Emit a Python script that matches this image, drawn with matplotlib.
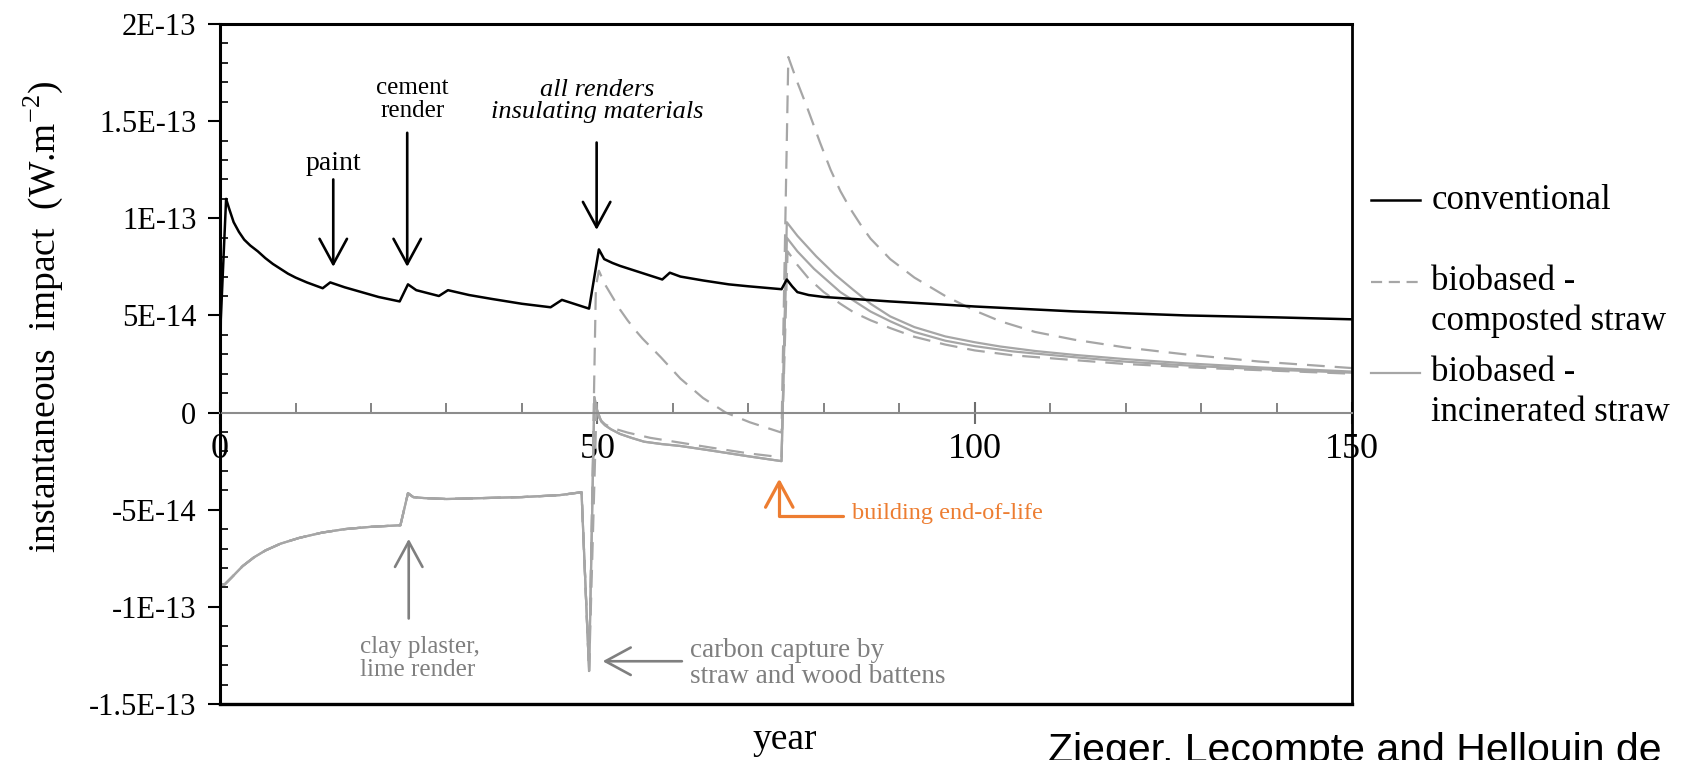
import matplotlib.pyplot as plt
from matplotlib.ticker import MultipleLocator

plt.rcParams['font.family'] = ['Liberation Serif', 'DejaVu Serif']
plt.rcParams['mathtext.fontset'] = 'custom'
plt.rcParams['mathtext.rm'] = 'Liberation Serif'

# values, in units of 1E-14 W.m-2

# conventional building
conv_years = [0, 0.1, 0.8, 1.2, 1.8, 2.5, 3.2, 4, 5, 6, 7, 8, 9, 10, 11.5, 13.6, 14.6, 16.5, 18.3,
              21, 23.8, 24.9, 26, 29, 30.2, 33, 36, 40, 43.8, 45.3, 48.9, 50.2, 50.9, 52, 53, 55, 57,
              58.6, 59.6, 61, 64, 67.4, 70, 74.4, 75.1, 75.8, 76.5, 78, 80, 85, 88.8, 95, 100, 113,
              128, 140, 150]
conv_vals = [0, 4.8, 11.0, 10.5, 9.8, 9.3, 8.9, 8.6, 8.3, 7.95, 7.65, 7.4, 7.15, 6.95, 6.7, 6.4, 6.7,
             6.45, 6.25, 5.95, 5.72, 6.6, 6.3, 6.0, 6.3, 6.05, 5.85, 5.6, 5.42, 5.8, 5.35, 8.4, 7.9,
             7.7, 7.55, 7.3, 7.05, 6.85, 7.2, 7.0, 6.8, 6.6, 6.5, 6.35, 6.85, 6.5, 6.2, 6.05, 5.95,
             5.82, 5.72, 5.58, 5.46, 5.21, 5.0, 4.9, 4.8]

# biobased, common part for both straw end-of-life options (years 0-49)
pre_years = [0, 0.6, 1.5, 3, 4.5, 6, 8, 10.5, 13.5, 16.5, 20, 23.9, 24.9, 25.6, 27, 30, 35, 40, 45,
             47.9, 48.9]
pre_vals = [-8.85, -8.85, -8.5, -7.9, -7.45, -7.1, -6.75, -6.45, -6.18, -6.0, -5.88, -5.8, -4.15, -4.35,
            -4.4, -4.45, -4.4, -4.35, -4.25, -4.1, -13.3]

# biobased - composted straw (two dashed curves)
comp_a_years = [49.8, 50.2, 51, 52, 53, 54, 55, 56, 58.4, 61, 64, 67, 70.2, 74.4, 75.3, 76.5, 77.8,
                79.5, 80.9, 82.2, 83.5, 85, 86.2, 88.8, 92, 96.1, 100, 103.4, 108, 113.2, 120, 127.8,
                137.6, 150]
comp_a_vals = [6.5, 7.3, 6.6, 5.95, 5.3, 4.75, 4.25, 3.8, 2.85, 1.75, 0.75, 0.0, -0.5, -1.03, 18.3,
               17.0, 15.7, 13.9, 12.5, 11.4, 10.5, 9.6, 8.95, 7.9, 6.95, 6.0, 5.25, 4.7, 4.15, 3.75,
               3.35, 3.0, 2.63, 2.29]
comp_b_years = [49.9, 50.2, 50.6, 51, 52, 54, 57, 61, 65, 70, 74.4, 75.2, 76.5, 78, 80, 82.2, 84,
                86.2, 88.8, 92, 96.1, 100, 105, 113.2, 120, 130, 140, 150]
comp_b_vals = [0.5, -0.25, -0.45, -0.6, -0.8, -1.03, -1.3, -1.55, -1.8, -2.1, -2.3, 8.3, 7.6, 6.9,
               6.2, 5.6, 5.15, 4.75, 4.35, 3.9, 3.5, 3.2, 2.95, 2.7, 2.5, 2.3, 2.15, 2.0]

# biobased - incinerated straw (two solid curves, same until year 74)
inc_mid_years = [49.6, 49.9, 50.5, 51, 51.8, 53, 54.5, 56.2, 58.5, 61, 65, 70, 74.4]
inc_mid_vals = [0.8, 0.2, -0.45, -0.65, -0.86, -1.1, -1.3, -1.5, -1.62, -1.72, -1.95, -2.25, -2.5]
inc_a_years = [75.1, 76.5, 79, 81.5, 83.9, 86.2, 88.8, 92, 96.1, 100, 103.4, 108, 113.2, 120, 127.8,
               138, 150]
inc_a_vals = [9.8, 9.1, 8.04, 7.1, 6.32, 5.6, 4.95, 4.4, 3.92, 3.62, 3.40, 3.17, 2.97, 2.75, 2.54,
              2.32, 2.11]
inc_b_years = [75.1, 76.5, 78.7, 82.2, 86.2, 88.8, 92, 96.1, 100, 105, 113.2, 120, 130, 140, 150]
inc_b_vals = [9.0, 8.3, 7.4, 6.2, 5.2, 4.7, 4.15, 3.7, 3.42, 3.15, 2.85, 2.62, 2.38, 2.2, 2.05]

yticks = [-15, -10, -5, 0, 5, 10, 15, 20]
ytick_labels = ['-1.5E-13', '-1E-13', '-5E-14', '0', '5E-14', '1E-13', '1.5E-13', '2E-13']
xticks = [0, 50, 100, 150]

gray = '#A6A6A6'
text_gray = '#7F7F7F'
orange = '#ED7D31'

fig = plt.figure(figsize=(16.85, 7.6), dpi=100)
ax = fig.add_axes([0.1306, 0.0737, 0.6718, 0.8947])

ax.plot(pre_years + comp_a_years, pre_vals + comp_a_vals, color=gray, lw=1.6, dashes=(8, 4.5))
ax.plot(pre_years + comp_b_years, pre_vals + comp_b_vals, color=gray, lw=1.6, dashes=(8, 4.5))
ax.plot(pre_years + inc_mid_years + inc_a_years, pre_vals + inc_mid_vals + inc_a_vals, color=gray, lw=1.6)
ax.plot(pre_years + inc_mid_years + inc_b_years, pre_vals + inc_mid_vals + inc_b_vals, color=gray, lw=1.6)
ax.plot(conv_years, conv_vals, color='black', lw=1.8, zorder=5)

ax.set_xlim(0, 150)
ax.set_ylim(-15, 20)

# x axis sits on the zero line, box closed with a black line at the bottom
ax.spines['bottom'].set_position(('data', 0))
ax.spines['bottom'].set_color('#8C8C8C')
ax.spines['bottom'].set_linewidth(1.5)
ax.plot([0, 1], [0, 0], transform=ax.transAxes, color='black', lw=2.4, clip_on=False, zorder=6)
for side in ['left', 'top']:
    ax.spines[side].set_linewidth(2.2)
ax.spines['right'].set_linewidth(2.0)

ax.set_xticks(xticks)
ax.xaxis.set_minor_locator(MultipleLocator(10))
ax.tick_params(axis='x', which='major', direction='inout', length=16, width=1.5, color='#6E6E6E',
               labelsize=26, pad=7)
ax.tick_params(axis='x', which='minor', direction='in', length=7, width=1.2, color='#6E6E6E')
ax.set_yticks(yticks, ytick_labels)
ax.yaxis.set_minor_locator(MultipleLocator(1))
ax.tick_params(axis='y', which='major', direction='out', length=9, width=1.5, labelsize=22, pad=8)
ax.tick_params(axis='y', which='minor', direction='in', length=6, width=1.2)

fig.text(0.0255, 0.583, 'instantaneous  impact  (W.m$^{-2}$)', rotation=90, ha='center', va='center',
         fontsize=27)
fig.text(0.466, 0.026, 'year', ha='center', va='center', fontsize=27)

# annotations
black_arrow = dict(arrowstyle='->,head_length=0.7,head_width=0.38', color='black', lw=1.9,
                   mutation_scale=26, shrinkA=0, shrinkB=0)
gray_arrow = dict(black_arrow, color=text_gray)

ax.text(15.0, 12.8, 'paint', ha='center', va='center', fontsize=20)
ax.annotate('', xy=(15.0, 7.5), xytext=(15.0, 12.0), arrowprops=black_arrow)
ax.text(25.5, 16.1, 'cement\nrender', ha='center', va='center', fontsize=18, linespacing=1.05)
ax.annotate('', xy=(24.8, 7.5), xytext=(24.8, 14.4), arrowprops=black_arrow)
ax.text(50.0, 16.05, 'all renders\ninsulating materials', ha='center', va='center', fontsize=19,
        style='italic', linespacing=1.0)
ax.annotate('', xy=(49.9, 9.4), xytext=(49.9, 13.9), arrowprops=black_arrow)

ax.text(18.5, -12.65, 'clay plaster,\nlime render', ha='left', va='center', fontsize=18,
        color=text_gray, linespacing=1.05)
ax.annotate('', xy=(25.0, -6.5), xytext=(25.0, -10.6), arrowprops=gray_arrow)
ax.text(62.3, -12.9, 'carbon capture by\nstraw and wood battens', ha='left', va='center', fontsize=19.5,
        color=text_gray, linespacing=1.05)
ax.annotate('', xy=(50.7, -12.8), xytext=(61.2, -12.8), arrowprops=gray_arrow)

ax.text(83.7, -5.2, 'building end-of-life', ha='left', va='center', fontsize=17.5, color=orange)
ax.annotate('', xy=(74.1, -3.4), xytext=(82.6, -5.3),
            arrowprops=dict(arrowstyle='->,head_length=0.7,head_width=0.38', color=orange, lw=2.3,
                            mutation_scale=26, shrinkA=0, shrinkB=0,
                            connectionstyle='angle,angleA=0,angleB=90,rad=0'))

# legend drawn to the right of the box
leg_x = [1.017, 1.060]
ax.plot(leg_x, [0.741, 0.741], transform=ax.transAxes, color='black', lw=1.8, clip_on=False)
ax.plot(leg_x, [0.621, 0.621], transform=ax.transAxes, color=gray, lw=1.6, dashes=(5, 3), clip_on=False)
ax.plot(leg_x, [0.487, 0.487], transform=ax.transAxes, color=gray, lw=1.6, clip_on=False)
ax.text(1.070, 0.741, 'conventional', transform=ax.transAxes, va='center', fontsize=25)
ax.text(1.070, 0.621, 'biobased -', transform=ax.transAxes, va='center', fontsize=25)
ax.text(1.070, 0.563, 'composted straw', transform=ax.transAxes, va='center', fontsize=25)
ax.text(1.070, 0.487, 'biobased -', transform=ax.transAxes, va='center', fontsize=25)
ax.text(1.070, 0.429, 'incinerated straw', transform=ax.transAxes, va='center', fontsize=25)

fig.text(0.622, -0.002, 'Zieger, Lecompte and Hellouin de', family='Liberation Sans', fontsize=29.5,
         ha='left', va='baseline')

fig.savefig('out.png', dpi=100)
